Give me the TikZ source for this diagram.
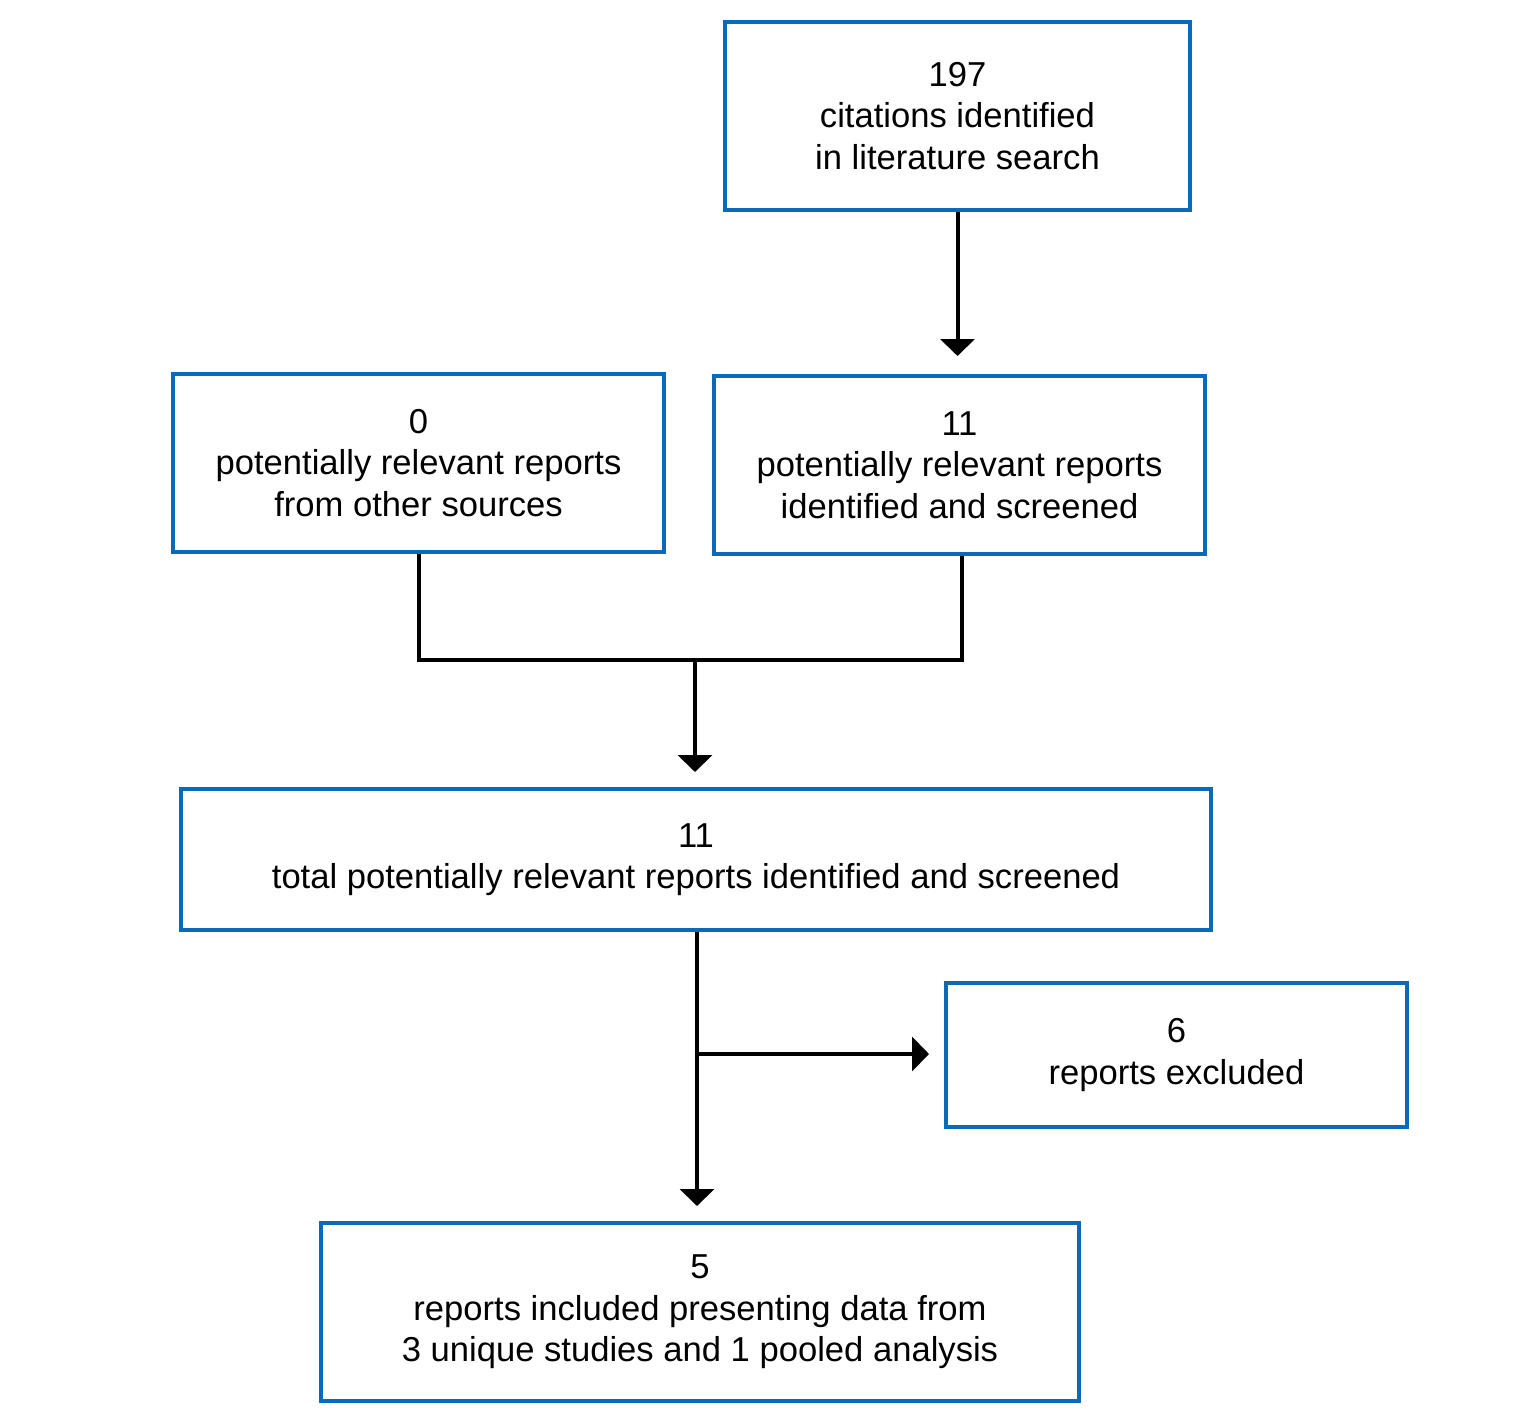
\documentclass[tikz,border=0pt]{standalone}
\usepackage{fontspec}
\setmainfont{Liberation Sans}
\usetikzlibrary{arrows.meta}
\definecolor{boxblue}{RGB}{10,106,186}
\tikzset{
  x=0.5pt, y=-0.5pt,
  box/.style={draw=boxblue, line width=2pt, fill=white, align=center, inner sep=0pt,
    font=\fontsize{17.3}{20.75}\selectfont},
  conn/.style={draw=black, line width=2pt},
  arr/.style={conn, -{Triangle[width=17pt,length=8.5pt]}}
}
\begin{document}
\begin{tikzpicture}
\useasboundingbox (0,0) rectangle (1530,1424);
\node[box, minimum width=232.5pt, minimum height=94pt] (A) at (957.5,116)
  {197\\citations identified\\in literature search};
\node[box, minimum width=245.5pt, minimum height=89pt] (B) at (418.5,463)
  {0\\potentially relevant reports\\from other sources};
\node[box, minimum width=245.5pt, minimum height=89pt] (C) at (959.5,465)
  {11\\potentially relevant reports\\identified and screened};
\node[box, minimum width=515pt, minimum height=70.5pt] (D) at (696,859.5)
  {11\\total potentially relevant reports identified and screened};
\node[box, minimum width=230.5pt, minimum height=72pt] (E) at (1176.5,1055)
  {6\\reports excluded};
\node[box, minimum width=379pt, minimum height=89pt] (F) at (700,1312)
  {5\\reports included presenting data from\\3 unique studies and 1 pooled analysis};
\coordinate (m) at (695,660);
\coordinate (br) at (697,1054);
\draw[arr, shorten >=9pt] (A.south) -- (A.south |- C.north);
\draw[conn] (B.south) |- (m) -| ([xshift=1pt]C.south);
\draw[arr, shorten >=7.5pt] (m) -- (m |- D.north);
\draw[arr, shorten >=7.5pt] (br |- D.south) -- (br |- F.north);
\draw[arr, shorten >=7.5pt] (br) -- (br -| E.west);
\end{tikzpicture}
\end{document}
